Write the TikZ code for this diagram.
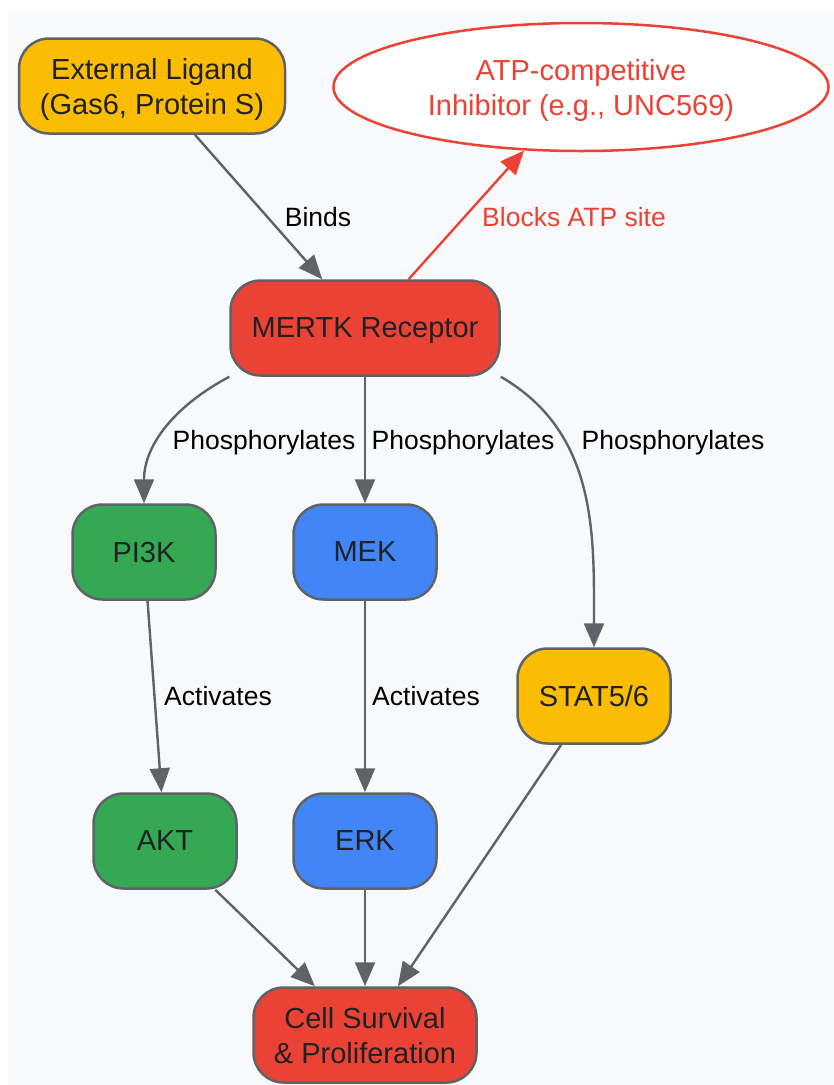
\documentclass[tikz,border=0pt]{standalone}
\usepackage{fontspec}
\setmainfont{Liberation Sans}
\usetikzlibrary{arrows.meta,shapes,calc}

\definecolor{gyellow}{HTML}{FBBC04}
\definecolor{gred}{HTML}{EA4335}
\definecolor{ggreen}{HTML}{34A853}
\definecolor{gblue}{HTML}{4285F4}
\definecolor{gborder}{HTML}{5F6368}
\definecolor{gtext}{HTML}{202124}
\definecolor{gbg}{HTML}{F8F9FA}

\begin{document}
\begin{tikzpicture}[x=1pt,y=1pt,
    box/.style={rectangle, rounded corners=30pt, draw=gborder, line width=2.5pt,
      minimum height=95pt, align=center, text=gtext, text depth=0pt,
      font=\fontsize{29}{35}\selectfont},
    lbl/.style={font=\fontsize{26.5}{31}\selectfont, text=black, text depth=0pt},
    flow/.style={draw=gborder, line width=2.4pt, -{Triangle[length=24pt,width=20pt]}}]
  \useasboundingbox (0,0) rectangle (834,-1085);
  \fill[gbg] (8,-10) rectangle (834,-1085);

  \path (152,-86) node[box, fill=gyellow, minimum width=266pt](lig){External Ligand\\(Gas6, Protein S)}
    (581,-87) node[ellipse, draw=gred, fill=white, line width=2.5pt, minimum width=495pt,
      minimum height=128pt, inner sep=0pt, align=center, text=gred, text depth=0pt,
      font=\fontsize{29}{35}\selectfont](inh){ATP-competitive\\Inhibitor (e.g., UNC569)}
    (365,-328) node[box, fill=gred, minimum width=269pt](mertk){MERTK Receptor}
    (144,-552) node[box, fill=ggreen, minimum width=143pt](pi3k){PI3K}
    (365,-552) node[box, fill=gblue, minimum width=143pt](mek){MEK}
    (594,-696) node[box, fill=gyellow, minimum width=153pt](stat){STAT5/6}
    (165,-841) node[box, fill=ggreen, minimum width=143pt](akt){AKT}
    (365,-841) node[box, fill=gblue, minimum width=143pt](erk){ERK}
    (365,-1035) node[box, fill=gred, minimum width=223pt](cell){Cell Survival\\\& Proliferation};

  % edge labels
  \path (318,-217) node[lbl](lbinds){Binds}
    (574,-217) node[lbl, text=gred](lblocks){Blocks ATP site}
    (264,-440) node[lbl](lphos1){Phosphorylates}
    (463,-440) node[lbl](lphos2){Phosphorylates}
    (673,-440) node[lbl](lphos3){Phosphorylates}
    (218,-696) node[lbl](lact1){Activates}
    (426,-696) node[lbl](lact2){Activates};

  \draw[flow](lig) -- (mertk);
  \draw[flow, draw=gred](mertk) -- (inh);
  \draw[flow](mertk.south west) to[out=208, in=90] (pi3k.north);
  \draw[flow](mertk) -- (mek);
  \draw[flow](mertk.south east) to[out=-30, in=90] (stat.north);
  \draw[flow](pi3k) -- (akt);
  \draw[flow](mek) -- (erk);
  \draw[flow](akt) -- (cell);
  \draw[flow](erk) -- (cell);
  \draw[flow](stat) -- (cell);
\end{tikzpicture}
\end{document}
